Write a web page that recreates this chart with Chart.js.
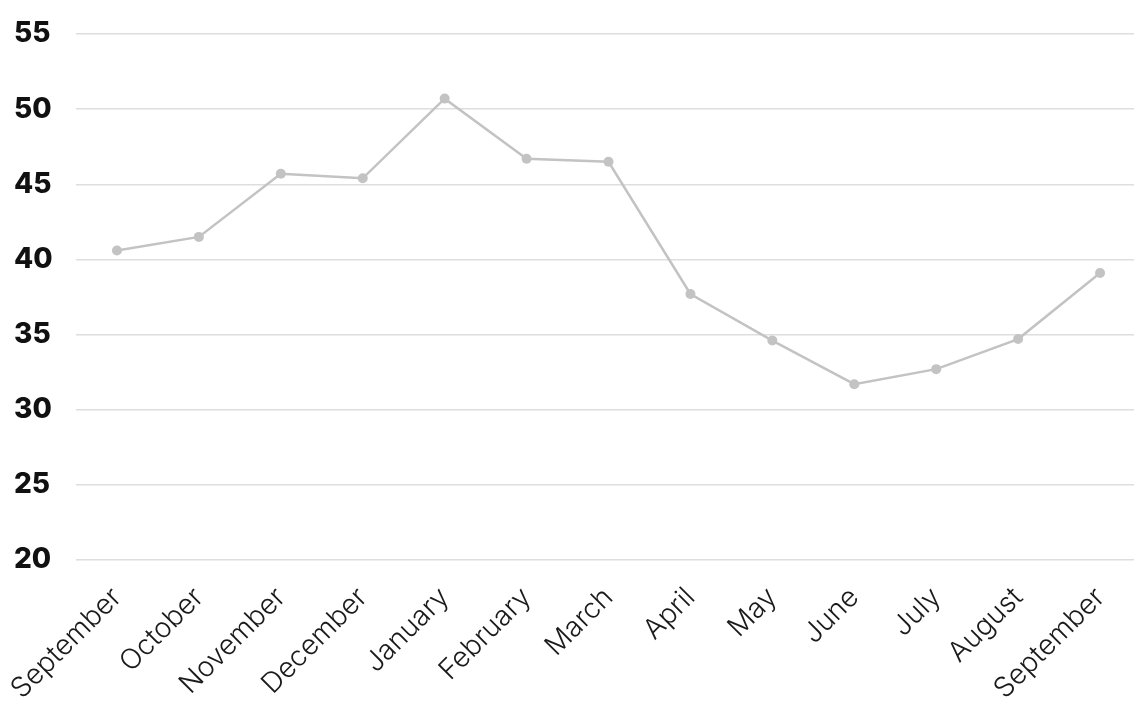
<!DOCTYPE html>
<html>
<head>
<meta charset="utf-8">
<script src="https://cdn.jsdelivr.net/npm/chart.js@4/dist/chart.umd.min.js"></script>
<style>
    html, body { margin: 0; padding: 0; background: #ffffff; overflow: hidden; }
    #wrap { width: 1146px; height: 711px; }
</style>
</head>
<body>
<div id="wrap"><canvas id="lineChart" width="1146" height="711"></canvas></div>
<script>
// Chart data
const months = ['September', 'October', 'November', 'December', 'January', 'February',
    'March', 'April', 'May', 'June', 'July', 'August', 'September'];
const values = [40.6, 41.5, 45.7, 45.4, 50.7, 46.7, 46.5, 37.7, 34.6, 31.7, 32.7, 34.7, 39.1];
const yTicks = [20, 25, 30, 35, 40, 45, 50, 55];

const ctx = document.getElementById('lineChart').getContext('2d');

new Chart(ctx, {
    type: 'line',
    data: {
        labels: months,
        datasets: [{
            data: values,
            borderColor: '#c3c3c3',
            backgroundColor: '#c3c3c3',
            borderWidth: 2.5,
            pointRadius: 5,
            pointBorderWidth: 0,
            tension: 0,
            fill: false
        }]
    },
    options: {
        responsive: false,
        animation: false,
        layout: {
            padding: { top: 34, right: 5, bottom: 0, left: 14 }
        },
        plugins: {
            legend: { display: false },
            tooltip: { enabled: false }
        },
        scales: {
            x: {
                offset: true,
                grid: { display: false, drawTicks: false },
                border: { display: false },
                ticks: {
                    autoSkip: false,
                    maxRotation: 45,
                    minRotation: 45,
                    padding: 21,
                    color: '#1a1a1a',
                    font: { family: 'Inter', size: 28, weight: 300 }
                },
                // keep the plot area where the reference has it
                afterFit: (scale) => {
                    scale.height = 151;
                    scale.paddingLeft = 0;
                    scale.paddingRight = 0;
                }
            },
            y: {
                min: 20,
                max: 55,
                afterBuildTicks: (scale) => {
                    scale.ticks = yTicks.map(v => ({ value: v }));
                },
                grid: { color: '#dedede', lineWidth: 1.5, drawTicks: false },
                border: { display: false },
                ticks: {
                    padding: 0,
                    crossAlign: 'far',
                    color: '#111111',
                    font: { family: 'Inter', size: 28, weight: 800 }
                },
                afterFit: (scale) => { scale.width = 62; }
            }
        }
    }
});
</script>
</body>
</html>
